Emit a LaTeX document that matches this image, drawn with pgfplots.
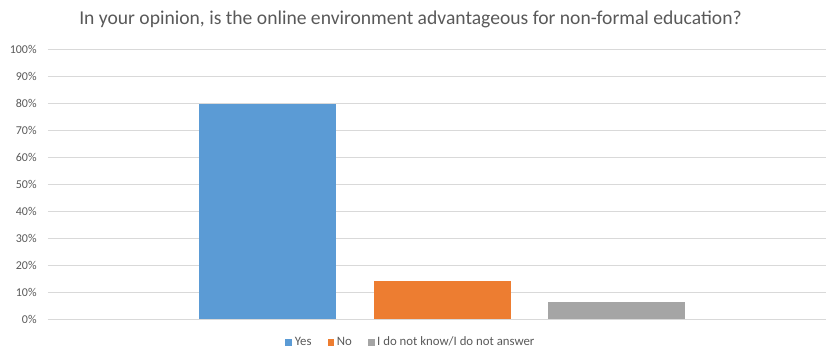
\documentclass[border=0pt]{standalone}
\usepackage{pgfplots}
\pgfplotsset{compat=1.18}
\usepackage{fontspec}
\setmainfont{Carlito}
\definecolor{cblue}{HTML}{5B9BD5}
\definecolor{corange}{HTML}{ED7D31}
\definecolor{cgray}{HTML}{A5A5A5}
\definecolor{gridgray}{HTML}{D9D9D9}
\definecolor{textgray}{HTML}{595959}
\begin{document}
\begin{tikzpicture}
\begin{axis}[
  scale only axis, width=583.5pt, height=202.5pt,
  xmin=-0.258, xmax=4.2, ymin=0, ymax=100,
  axis line style={draw=none},
  xtick=\empty,
  ytick={0,10,...,100},
  ymajorgrids, grid style={color=gridgray, line width=0.75pt},
  major tick length=0pt,
  /pgf/number format/assume math mode=true,
  yticklabel={\pgfmathprintnumber{\tick}\%},
  yticklabel style={xshift=-5pt},
  tick label style={font=\fontsize{9}{11}\selectfont, text=textgray},
  title={In your opinion, is the online environment advantageous for non-formal education?},
  title style={font=\fontsize{14.7}{17}\selectfont, text=textgray, at={(0.466,1.081)}, anchor=center},
  ybar, bar width=0.785,
  legend columns=3,
  legend style={draw=none, fill=none, at={(0.467,-0.086)}, anchor=center,
    font=\fontsize{9.6}{11}\selectfont, text=textgray,
    /tikz/every even column/.append style={column sep=10pt}},
  legend image code/.code={\fill[#1] (0pt,-2.5pt) rectangle (5pt,2.5pt);},
]
\addplot[fill=cblue, draw=none, bar shift=0pt] coordinates {(1,79.6)};
\addplot[fill=corange, draw=none, bar shift=0pt] coordinates {(2,14.2)};
\addplot[fill=cgray, draw=none, bar shift=0pt] coordinates {(3,6.3)};
\legend{Yes, No, I do not know/I do not answer}
\end{axis}
\pgfresetboundingbox
\path (current axis.south west) ++(-36pt,-22.3pt) rectangle ++(619.5pt,261.75pt);
\end{tikzpicture}
\end{document}
